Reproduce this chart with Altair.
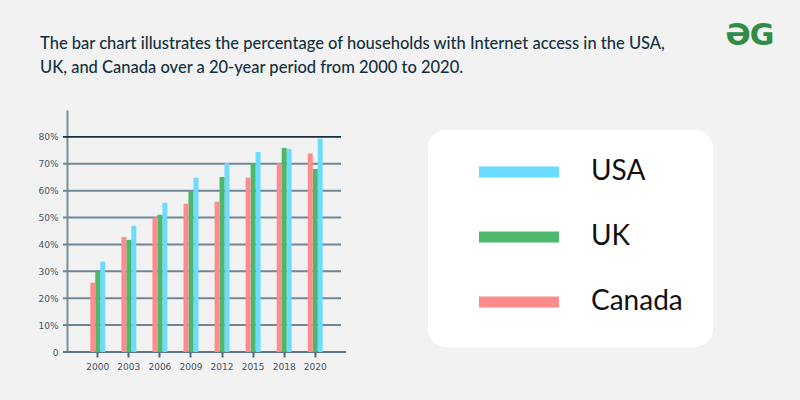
import altair as alt
import pandas as pd

years = ["2000", "2003", "2006", "2009", "2012", "2015", "2018", "2020"]
usa = [33.6, 46.9, 55.5, 64.8, 70.2, 74.4, 75.5, 79.3]
uk = [30.0, 41.7, 51.0, 59.9, 65.1, 70.3, 75.9, 68.1]
canada = [25.8, 42.8, 50.0, 55.1, 55.9, 64.8, 70.2, 73.8]
countries = ["USA", "UK", "Canada"]
bar_order = ["Canada", "UK", "USA"]
colors = ["#6bdbff", "#4cb86c", "#ff8c8c"]
grid_values = [10, 20, 30, 40, 50, 60, 70]
top_value = [80]
zero_value = [0]
y_ticks = [0, 10, 20, 30, 40, 50, 60, 70, 80]
title_lines = [
    "The bar chart illustrates the percentage of households with Internet access in the USA,",
    "UK, and Canada over a 20-year period from 2000 to 2020.",
]

rows = []
for i, yr in enumerate(years):
    for c, vals in zip(countries, [usa, uk, canada]):
        rows.append({"year": yr, "country": c, "value": vals[i]})
df = pd.DataFrame(rows)

color_scale = alt.Scale(domain=countries, range=colors)
y_scale = alt.Scale(domain=[0, 90], nice=False, zero=True)
legend_y = alt.Scale(type="point", domain=countries, range=[62, 192], padding=0)

box = alt.Chart(alt.Data(values=[{}])).mark_rect(fill="white", cornerRadius=18).encode(
    x=alt.value(361), x2=alt.value(646), y=alt.value(20), y2=alt.value(237)
)

grid = alt.Chart(pd.DataFrame({"v": grid_values})).mark_rule(color="#6f8696", strokeWidth=2).encode(
    y=alt.Y("v:Q", scale=y_scale, axis=None), x=alt.value(-4), x2=alt.value(274)
)
top = alt.Chart(pd.DataFrame({"v": top_value})).mark_rule(color="#17303f", strokeWidth=1.6).encode(
    y=alt.Y("v:Q", scale=y_scale, axis=None), x=alt.value(-4), x2=alt.value(274)
)
zero = alt.Chart(pd.DataFrame({"v": zero_value})).mark_rule(color="#5d7587", strokeWidth=2).encode(
    y=alt.Y("v:Q", scale=y_scale, axis=None), x=alt.value(-4), x2=alt.value(279)
)

bars = alt.Chart(df).mark_bar(strokeWidth=0).encode(
    x=alt.X(
        "year:N", sort=years,
        scale=alt.Scale(paddingInner=0.52, paddingOuter=0.75),
        axis=alt.Axis(title=None, labelAngle=0, tickSize=5, tickWidth=2, tickColor="#4d6678",
                      domain=False, labelPadding=5, grid=False),
    ),
    xOffset=alt.XOffset("country:N", sort=bar_order, scale=alt.Scale(paddingInner=0, paddingOuter=0)),
    y=alt.Y(
        "value:Q", scale=y_scale,
        axis=alt.Axis(title=None, values=y_ticks, ticks=False, grid=False, domainColor="#7b8f9c",
                      domainWidth=2, labelPadding=9,
                      labelExpr="datum.value == 0 ? '0' : datum.value + '%'"),
    ),
    color=alt.Color("country:N", scale=color_scale, legend=None),
)

leg_sym = alt.Chart(pd.DataFrame({"country": countries})).mark_rule(strokeWidth=11).encode(
    y=alt.Y("country:N", scale=legend_y, axis=None),
    x=alt.value(412), x2=alt.value(492),
    color=alt.Color("country:N", scale=color_scale, legend=None),
)
leg_txt = alt.Chart(pd.DataFrame({"country": countries})).mark_text(
    align="left", baseline="middle", fontSize=28, font="Lato", color="#111111"
).encode(
    y=alt.Y("country:N", scale=legend_y, axis=None),
    x=alt.value(524),
    text="country:N",
)

title = alt.Chart(alt.Data(values=[{}])).mark_text(
    align="left", baseline="alphabetic", fontSize=16.5, font="Lato", fontWeight=500,
    lineHeight=24.5, color="#12303f"
).encode(x=alt.value(-27), y=alt.value(-61.5), text=alt.value(title_lines))

logo_left = alt.Chart(alt.Data(values=[{}])).mark_text(
    align="center", baseline="middle", fontSize=30, fontWeight="bold", font="DejaVu Sans", color="#2f8d46"
).encode(x=alt.value(671), y=alt.value(-74), text=alt.value("Ə"))
logo_right = alt.Chart(alt.Data(values=[{}])).mark_text(
    align="center", baseline="middle", fontSize=30, fontWeight="bold", font="DejaVu Sans", color="#2f8d46"
).encode(x=alt.value(695), y=alt.value(-74), text=alt.value("G"))

chart = alt.layer(box, grid, top, zero, bars, leg_sym, leg_txt, title, logo_left, logo_right).resolve_scale(
    y="independent"
).properties(
    width=279, height=242,
    padding={"left": 67, "top": 110, "right": 454, "bottom": 48},
    autosize=alt.AutoSizeParams(type="none"),
    background="#f2f2f2",
).configure_view(stroke=None).configure_axis(
    labelFont="DejaVu Sans", labelFontSize=9, labelColor="#3c5567"
)

chart.save("out.html", embed_options={"renderer": "svg", "actions": False})
